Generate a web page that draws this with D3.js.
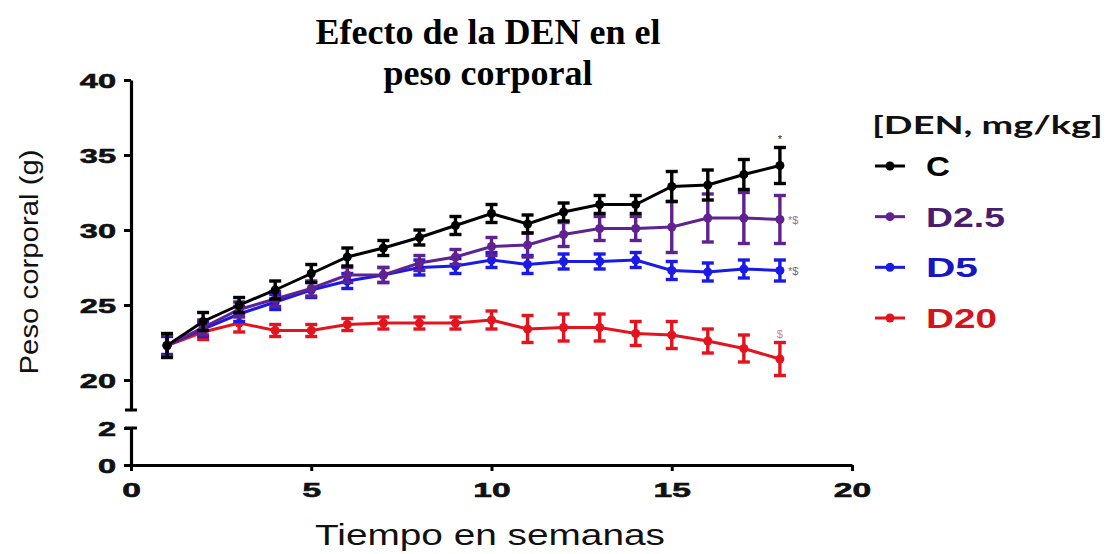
<!DOCTYPE html>
<html>
<head>
<meta charset="utf-8">
<script src="https://cdn.jsdelivr.net/npm/d3@7"></script>
<style>
  body { margin: 0; background: #fff; }
  svg { display: block; }
</style>
</head>
<body>
<div id="wrapper"></div>
<script>
// datos (peso corporal en g, media y error)
const semanas = [1, 2, 3, 4, 5, 6, 7, 8, 9, 10, 11, 12, 13, 14, 15, 16, 17, 18];
const pesoC   = [22.3, 23.9, 25.0, 26.0, 27.1, 28.2, 28.8, 29.5, 30.3, 31.1, 30.4, 31.2, 31.7, 31.7, 32.9, 33.0, 33.7, 34.3];
const errC    = [0.8, 0.6, 0.5, 0.6, 0.6, 0.6, 0.5, 0.5, 0.6, 0.6, 0.6, 0.6, 0.6, 0.6, 1.0, 1.0, 1.0, 1.2];
const pesoD25 = [22.3, 23.5, 24.7, 25.4, 26.1, 27.0, 27.0, 27.8, 28.2, 28.9, 29.0, 29.7, 30.1, 30.1, 30.2, 30.8, 30.8, 30.7];
const errD25  = [0.7, 0.5, 0.5, 0.5, 0.5, 0.5, 0.5, 0.5, 0.5, 0.6, 0.8, 0.8, 0.8, 0.8, 1.7, 1.6, 1.7, 1.6];
const pesoD5  = [22.3, 23.4, 24.4, 25.2, 26.0, 26.6, 27.0, 27.5, 27.6, 28.0, 27.7, 27.9, 27.9, 28.0, 27.3, 27.2, 27.4, 27.3];
const errD5   = [0.6, 0.5, 0.5, 0.5, 0.5, 0.5, 0.5, 0.5, 0.5, 0.5, 0.6, 0.5, 0.5, 0.5, 0.6, 0.6, 0.6, 0.7];
const pesoD20 = [22.3, 23.2, 23.8, 23.3, 23.3, 23.7, 23.8, 23.8, 23.8, 24.0, 23.4, 23.5, 23.5, 23.1, 23.0, 22.6, 22.1, 21.4];
const errD20  = [0.7, 0.5, 0.6, 0.4, 0.4, 0.4, 0.4, 0.4, 0.4, 0.6, 0.9, 0.9, 0.9, 0.8, 0.9, 0.8, 0.9, 1.1];

const grupos = ["C", "D2.5", "D5", "D20"];
const xTicks = [0, 5, 10, 15, 20];
const yTicksArriba = [20, 25, 30, 35, 40];
const yTicksAbajo = [0, 2];
const marcas = ["*", "*$", "*$", "$"]; // significancia en la semana 18

const colores = { "C": "#000000", "D2.5": "#5f2290", "D5": "#1a1ae8", "D20": "#e3141e" };
const coloresTexto = { "C": "#000000", "D2.5": "#4a1c6e", "D5": "#1616c4", "D20": "#d3141c" };
const coloresMarca = { "C": "#222", "D2.5": "#8a7a9a", "D5": "#6a6a80", "D20": "#d08080" };

const series = [
  { name: "D20", values: pesoD20, err: errD20 },
  { name: "D5", values: pesoD5, err: errD5 },
  { name: "D2.5", values: pesoD25, err: errD25 },
  { name: "C", values: pesoC, err: errC }
];

const dimension = { width: 1107, height: 554 };

const svg = d3.select("#wrapper").append("svg")
  .attr("width", dimension.width)
  .attr("height", dimension.height);

const x = d3.scaleLinear().domain([0, 20]).range([131, 852]);
const yArriba = d3.scaleLinear().domain([18, 40]).range([410, 80]);
const yAbajo = d3.scaleLinear().domain([0, 2]).range([465, 428]);

const sans = "'Liberation Sans', Arial, sans-serif";

// estira el texto en horizontal, como en la imagen original
function estirar(sel, sx) {
  sel.each(function () {
    const t = d3.select(this);
    const px = +t.attr("x") || 0, py = +t.attr("y") || 0;
    t.attr("x", 0).attr("y", 0)
      .attr("transform", `translate(${px},${py}) scale(${sx},1)`);
  });
}
function ajustarAncho(t, ancho) {
  const w = t.node().getComputedTextLength();
  return ancho / w;
}

// ---- ejes ----
const ejeYArriba = svg.append("g")
  .attr("transform", `translate(${x(0)},0)`)
  .call(d3.axisLeft(yArriba).tickValues(yTicksArriba).tickSize(7).tickSizeOuter(0).tickPadding(8));
const ejeYAbajo = svg.append("g")
  .attr("transform", `translate(${x(0)},0)`)
  .call(d3.axisLeft(yAbajo).tickValues(yTicksAbajo).tickFormat(d3.format("d")).tickSize(7).tickSizeOuter(0).tickPadding(8));
const ejeX = svg.append("g")
  .attr("transform", `translate(0,${yAbajo(0)})`)
  .call(d3.axisBottom(x).tickValues(xTicks).tickSize(6).tickSizeOuter(0).tickPadding(6));

[ejeYArriba, ejeYAbajo, ejeX].forEach(g => {
  g.select(".domain").attr("stroke", "#000").attr("stroke-width", 3.2);
  g.selectAll(".tick line").attr("stroke", "#000").attr("stroke-width", 3);
  g.selectAll(".tick text")
    .attr("fill", "#111")
    .attr("stroke", "#111")
    .attr("stroke-width", 0.6)
    .style("font-family", sans)
    .style("font-weight", "bold")
    .style("font-size", "21px");
});
ejeYArriba.selectAll(".tick text").attr("dy", "0.36em");
ejeYAbajo.selectAll(".tick text").attr("dy", "0.36em");
ejeX.selectAll(".tick text").attr("dy", "0.95em");
ejeYArriba.selectAll(".tick text").call(estirar, 1.55);
ejeYAbajo.selectAll(".tick text").call(estirar, 1.55);
ejeX.selectAll(".tick text").call(estirar, 1.6);

// corte del eje y
const corte = svg.append("g").attr("stroke", "#000").attr("stroke-width", 3);
corte.append("line")
  .attr("x1", x(0) - 6).attr("x2", x(0) + 6)
  .attr("y1", yArriba(18)).attr("y2", yArriba(18));
corte.append("line")
  .attr("x1", x(0) - 6).attr("x2", x(0) + 6)
  .attr("y1", yAbajo(2)).attr("y2", yAbajo(2));

// ---- series ----
const linea = d3.line()
  .x((d, i) => x(semanas[i]))
  .y(d => yArriba(d));

const plot = svg.append("g");
series.forEach(s => {
  const c = colores[s.name];
  const g = plot.append("g");
  g.append("path")
    .attr("d", linea(s.values))
    .attr("fill", "none")
    .attr("stroke", c)
    .attr("stroke-width", 3);

  const barras = g.selectAll(".err").data(s.values).join("g").attr("class", "err")
    .attr("stroke", c).attr("stroke-width", 3.4);
  barras.append("line")
    .attr("x1", (d, i) => x(semanas[i])).attr("x2", (d, i) => x(semanas[i]))
    .attr("y1", (d, i) => yArriba(d - s.err[i])).attr("y2", (d, i) => yArriba(d + s.err[i]));
  barras.append("line")
    .attr("x1", (d, i) => x(semanas[i]) - 6).attr("x2", (d, i) => x(semanas[i]) + 6)
    .attr("y1", (d, i) => yArriba(d + s.err[i])).attr("y2", (d, i) => yArriba(d + s.err[i]));
  barras.append("line")
    .attr("x1", (d, i) => x(semanas[i]) - 6).attr("x2", (d, i) => x(semanas[i]) + 6)
    .attr("y1", (d, i) => yArriba(d - s.err[i])).attr("y2", (d, i) => yArriba(d - s.err[i]));

  g.selectAll("circle").data(s.values).join("circle")
    .attr("cx", (d, i) => x(semanas[i]))
    .attr("cy", d => yArriba(d))
    .attr("r", 4.5)
    .attr("fill", c);
});

// marcas de significancia
const ultima = semanas.length - 1;
const anot = svg.append("g")
  .style("font-family", sans)
  .style("font-size", "11px");
anot.append("text")
  .attr("x", x(semanas[ultima])).attr("y", yArriba(pesoC[ultima] + errC[ultima]) - 5)
  .attr("text-anchor", "middle").attr("fill", coloresMarca["C"]).text(marcas[0]);
anot.append("text")
  .attr("x", x(semanas[ultima]) + 8).attr("y", yArriba(pesoD25[ultima]) + 4)
  .attr("fill", coloresMarca["D2.5"]).text(marcas[1]);
anot.append("text")
  .attr("x", x(semanas[ultima]) + 8).attr("y", yArriba(pesoD5[ultima]) + 4)
  .attr("fill", coloresMarca["D5"]).text(marcas[2]);
anot.append("text")
  .attr("x", x(semanas[ultima])).attr("y", yArriba(pesoD20[ultima] + errD20[ultima]) - 5)
  .attr("text-anchor", "middle").attr("fill", coloresMarca["D20"]).text(marcas[3]);

// ---- leyenda ----
const leyenda = svg.append("g");
const tituloLeyenda = leyenda.append("text")
  .attr("x", 872).attr("y", 134)
  .style("font-family", "Lato, 'Open Sans', sans-serif")
  .style("font-weight", "bold")
  .style("font-size", "25px")
  .attr("fill", "#111")
  .text("[DEN, mg/kg]");
tituloLeyenda.call(estirar, ajustarAncho(tituloLeyenda, 231));

const anchosLeyenda = { "C": 24, "D2.5": 79, "D5": 52, "D20": 71 };
const yLeyenda = d3.scalePoint().domain(grupos).range([166, 318]);
grupos.forEach(n => {
  const yy = yLeyenda(n);
  leyenda.append("line")
    .attr("x1", 875).attr("x2", 905).attr("y1", yy).attr("y2", yy)
    .attr("stroke", colores[n]).attr("stroke-width", 3);
  leyenda.append("circle")
    .attr("cx", 890).attr("cy", yy).attr("r", 4.5).attr("fill", colores[n]);
  const t = leyenda.append("text")
    .attr("x", 926).attr("y", yy + 10)
    .style("font-family", sans)
    .style("font-weight", "bold")
    .style("font-size", "28px")
    .attr("fill", coloresTexto[n])
    .text(n);
  t.call(estirar, ajustarAncho(t, anchosLeyenda[n]));
});

// ---- titulos ----
const titulo = svg.append("g")
  .style("font-family", "'Liberation Serif', 'Times New Roman', serif")
  .style("font-weight", "bold")
  .style("font-size", "36px")
  .attr("text-anchor", "middle");
titulo.append("text").attr("x", 488).attr("y", 44).text("Efecto de la DEN en el");
titulo.append("text").attr("x", 488).attr("y", 85).text("peso corporal");

const xLabel = svg.append("text")
  .attr("x", 490).attr("y", 545)
  .attr("text-anchor", "middle")
  .style("font-family", sans)
  .style("font-size", "29px")
  .attr("fill", "#111")
  .text("Tiempo en semanas");
xLabel.call(estirar, ajustarAncho(xLabel, 350));

const yLabel = svg.append("text")
  .attr("text-anchor", "middle")
  .style("font-family", sans)
  .style("font-size", "25px")
  .attr("fill", "#111")
  .text("Peso corporal (g)");
const sy = ajustarAncho(yLabel, 225);
yLabel.attr("transform", `translate(38,262) rotate(-90) scale(${sy},1)`);
</script>
</body>
</html>
